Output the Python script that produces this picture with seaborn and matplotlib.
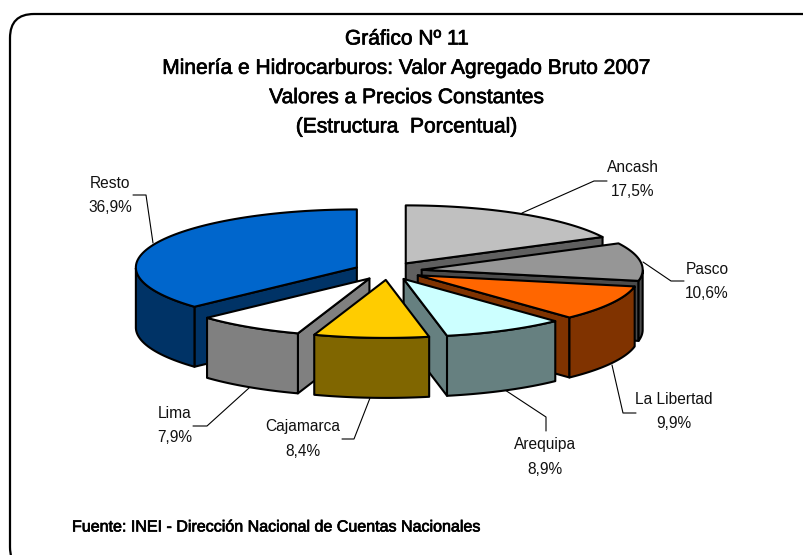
import numpy as np
import seaborn as sns
import matplotlib.pyplot as plt
import matplotlib.patheffects as pe
from matplotlib.patches import FancyBboxPatch, Polygon

# Datos
regiones = ["Ancash", "Pasco", "La Libertad", "Arequipa", "Cajamarca", "Lima", "Resto"]
valores = [17.5, 10.6, 9.9, 8.9, 8.4, 7.9, 36.9]
etiquetas = ["17,5%", "10,6%", "9,9%", "8,9%", "8,4%", "7,9%", "36,9%"]
titulo = ["Gráfico Nº 11",
          "Minería e Hidrocarburos: Valor Agregado Bruto 2007",
          "Valores a Precios Constantes",
          "(Estructura  Porcentual)"]
fuente = "Fuente: INEI - Dirección Nacional de Cuentas Nacionales"

# Estilo
colores = ["#C0C0C0", "#969696", "#FF6600", "#CCFFFF", "#FFCC00", "#FFFFFF", "#0066CC"]
lados = ["#606060", "#4B4B4B", "#803300", "#668080", "#806600", "#808080", "#003366"]
orden = [6, 0, 1, 2, 3, 5, 4]  # de atras hacia adelante
cx, cy = 388, 271
a, b = 221, 58
alto = 60
explode = 34 / 221

# posicion de etiquetas y lineas guia (pixeles)
pos_etq = [(633, 180), (707, 281), (674, 412), (545, 457), (303, 439), (175, 425), (110, 195)]
guias = [[(522, 213), (594, 181), (607, 181)],
         [(643, 262), (671, 281), (684, 281)],
         [(612, 365), (623, 413), (636, 413)],
         [(505, 390), (546, 417), (546, 431)],
         [(370, 398), (354, 439), (342, 439)],
         [(249, 388), (207, 426), (193, 426)],
         [(153, 243), (146, 195), (133, 195)]]

sns.set_theme(style="white")
plt.rcParams["font.family"] = ["Liberation Sans", "DejaVu Sans"]

fig, ax = plt.subplots(figsize=(8.04, 5.55), dpi=100)
ax.set_position([0, 0, 1, 1])
ax.set_xlim(0, 804)
ax.set_ylim(555, 0)
ax.axis("off")

ax.add_patch(FancyBboxPatch((34, 38), 840, 509, boxstyle="round,pad=24,rounding_size=24",
                            fc="white", ec="black", lw=1.6, zorder=0))

fin = np.cumsum(valores) / np.sum(valores) * 2 * np.pi
ini = np.concatenate([[0], fin[:-1]])
paleta = sns.color_palette(colores)
paleta_lados = sns.color_palette(lados)


def punto(ap, t, h=0):
    return ap[0] + a * np.sin(t), ap[1] - b * np.cos(t) + h


z = 2
for i in orden:
    medio = (ini[i] + fin[i]) / 2
    ap = (cx + explode * a * np.sin(medio), cy - explode * b * np.cos(medio))
    t = np.linspace(ini[i], fin[i], 80)
    kw = dict(ec="black", lw=1.5, joinstyle="round")

    # cara radial visible
    borde = fin[i] if fin[i] <= np.pi else ini[i]
    if ini[i] < np.pi * 0.999 and fin[i] <= np.pi or ini[i] > np.pi:
        p = punto(ap, borde)
        ax.add_patch(Polygon([ap, p, (p[0], p[1] + alto), (ap[0], ap[1] + alto)],
                             fc=paleta_lados[i], zorder=z, **kw))
        z += 1

    # borde exterior, solo la mitad delantera
    tf = t[(t >= np.pi / 2) & (t <= 3 * np.pi / 2)]
    if len(tf):
        sup = [punto(ap, v) for v in tf]
        inf = [punto(ap, v, alto) for v in tf[::-1]]
        ax.add_patch(Polygon(sup + inf, fc=paleta_lados[i], zorder=z, **kw))
        z += 1

    # cara superior
    ax.add_patch(Polygon([ap] + [punto(ap, v) for v in t], fc=paleta[i], zorder=z, **kw))
    z += 1

for reg, et, (x, y), g in zip(regiones, etiquetas, pos_etq, guias):
    ax.text(x, y - 12, reg, ha="center", va="center", fontsize=11.2,
            color="#111111", zorder=50)
    ax.text(x, y + 12, et, ha="center", va="center", fontsize=11.2,
            color="#111111", zorder=50)
    ax.plot(*zip(*g), color="black", lw=0.8, zorder=1)

trazo = [pe.withStroke(linewidth=0.5, foreground="black")]
for k, linea in enumerate(titulo):
    ax.text(407, 39 + k * 29.3, linea, ha="center", va="center", fontsize=15.1,
            color="black", path_effects=trazo, zorder=50)
ax.text(72, 527, fuente, ha="left", va="center", fontsize=11.55, color="black",
        path_effects=trazo, zorder=50)

fig.savefig("out.png", dpi=100)
